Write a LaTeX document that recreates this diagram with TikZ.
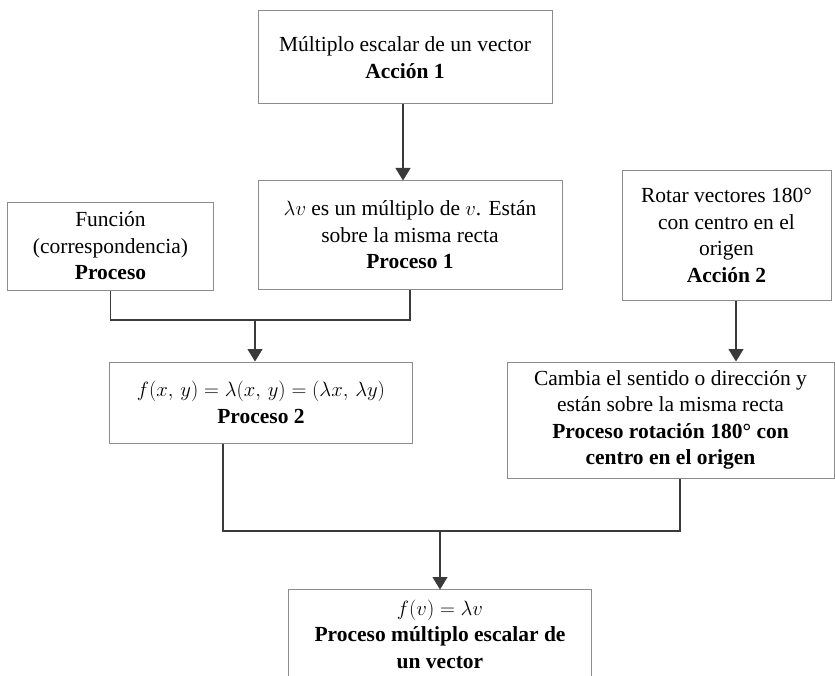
\documentclass[tikz,border=0pt]{standalone}
\usepackage{fontspec}
\setmainfont{Liberation Serif}
\usetikzlibrary{arrows.meta,calc}

\definecolor{boxline}{HTML}{8C8C8C}
\definecolor{wire}{HTML}{3A3A3A}

\tikzset{
  stage/.style={draw=boxline, line width=1bp, fill=white, align=center,
    inner sep=0pt, font=\fontsize{21.5bp}{26.5bp}\selectfont},
  openstage/.style={stage, draw=none},
  wirepath/.style={draw=wire, line width=1.2bp},
  flow/.style={wirepath, -{Triangle[width=15bp,length=12.5bp]}},
}

\begin{document}
\begin{tikzpicture}[x=1bp, y=-1bp]
  \useasboundingbox (0,0) rectangle (835,676);

  % stages of the construction
  \node[stage, minimum width=294bp, minimum height=93bp] (a) at (405,57.5)
    {Múltiplo escalar de un vector\\ \textbf{Acción 1}};
  \node[stage, minimum width=205bp, minimum height=88bp] (b) at (110.5,246)
    {Función\\ (correspondencia)\\ \textbf{Proceso}};
  \node[stage, minimum width=304bp, minimum height=108bp] (c) at (410,235)
    {$\lambda v$ es un múltiplo de $v$. Están\\ sobre la misma recta\\ \textbf{Proceso 1}};
  \node[stage, minimum width=209bp, minimum height=129bp] (d) at (726.5,235.5)
    {Rotar vectores 180°\\ con centro en el\\ origen\\ \textbf{Acción 2}};
  \node[stage, minimum width=302bp, minimum height=81bp] (f) at (261,402.5)
    {$f(x,\,y)=\lambda(x,\,y)=(\lambda x,\,\lambda y)$\\ \textbf{Proceso 2}};
  \node[stage, minimum width=327bp, minimum height=116bp] (e) at (670.5,420)
    {\raisebox{-3bp}{\parbox{320bp}{\centering
     Cambia el sentido o dirección y\\ están sobre la misma recta\\
     \textbf{Proceso rotación 180° con}\\ \textbf{centro en el origen}}}};
  \node[openstage, minimum width=302bp, minimum height=88bp] (g) at (440,634)
    {$f(v)=\lambda v$\\ \textbf{Proceso múltiplo escalar de}\\ \textbf{un vector}};
  \draw[draw=boxline, line width=1bp]
    (g.south west) -- (g.north west) -- (g.north east) -- (g.south east);

  % junction points of the connectors
  \coordinate (jbc) at (255,320);
  \coordinate (jfe) at (440,531);
  \coordinate (aout) at ($(a.south)+(-2,0)$);
  \coordinate (dout) at ($(d.south)+(9.5,0)$);
  \coordinate (fout) at ($(f.south)+(-38,0)$);
  \coordinate (eout) at ($(e.south)+(9.5,0)$);

  % connectors
  \draw[flow] (aout) -- (aout |- c.north);
  \draw[wirepath] (b.south) |- (jbc) -| (c.south);
  \draw[flow] (jbc) -- (jbc |- f.north);
  \draw[flow] (dout) -- (dout |- e.north);
  \draw[wirepath] (fout) |- (jfe) -| (eout);
  \draw[flow] (jfe) -- (jfe |- g.north);
\end{tikzpicture}
\end{document}
